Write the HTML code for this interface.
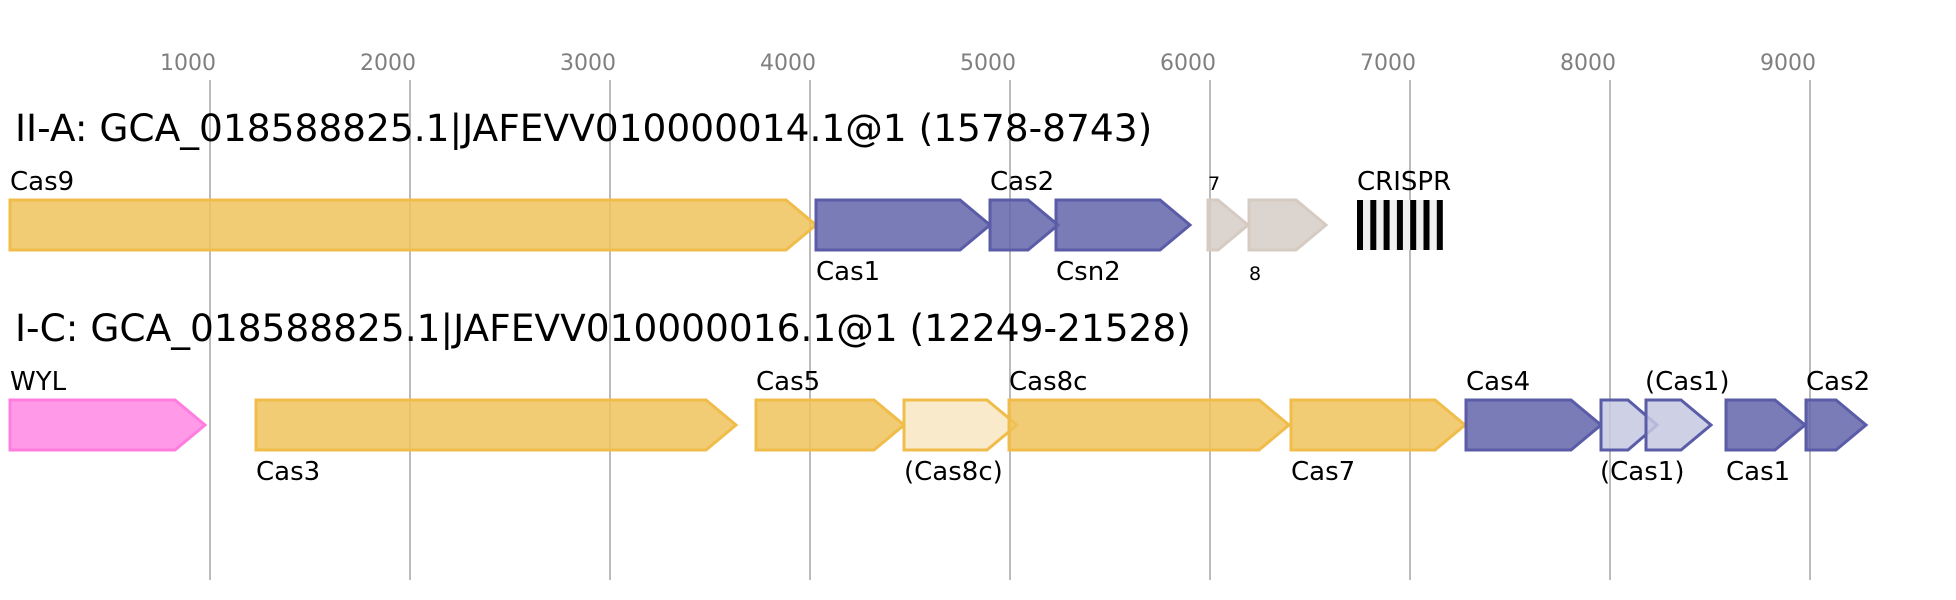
<!DOCTYPE html>
<html>
<head>
<meta charset="utf-8">
<style>
  html, body { margin: 0; padding: 0; background: #ffffff; }
  svg { display: block; }
  text { font-family: "DejaVu Sans", "Liberation Sans", sans-serif; }
  .tick { font-size: 22px; fill: #808080; text-anchor: middle; }
  .title { font-size: 37.5px; fill: #000; }
  .lab { font-size: 26px; fill: #000; }
  .small { font-size: 19px; fill: #000; }
  .grid { stroke: #bbbbbb; stroke-width: 2; }
  .y { fill: #eec35c; fill-opacity: 0.85; stroke: #f0bc4a; stroke-width: 3; }
  .ly { fill: #f8e6c2; fill-opacity: 0.85; stroke: #f0bc4a; stroke-width: 3; }
  .b { fill: #6265a9; fill-opacity: 0.85; stroke: #5a5ca8; stroke-width: 3; }
  .lb { fill: #c6c8e2; fill-opacity: 0.85; stroke: #5a5ca8; stroke-width: 3; }
  .g { fill: #d6ccc6; fill-opacity: 0.85; stroke: #d6cbc2; stroke-width: 3; }
  .p { fill: #ff87e4; fill-opacity: 0.85; stroke: #ff7ddf; stroke-width: 3; }
</style>
</head>
<body>
<svg width="1956" height="600" viewBox="0 0 1956 600" xmlns="http://www.w3.org/2000/svg">
  <!-- grid -->
  <g class="grid">
    <line x1="210" y1="80" x2="210" y2="580"/>
    <line x1="410" y1="80" x2="410" y2="580"/>
    <line x1="610" y1="80" x2="610" y2="580"/>
    <line x1="810" y1="80" x2="810" y2="580"/>
    <line x1="1010" y1="80" x2="1010" y2="580"/>
    <line x1="1210" y1="80" x2="1210" y2="580"/>
    <line x1="1410" y1="80" x2="1410" y2="580"/>
    <line x1="1610" y1="80" x2="1610" y2="580"/>
    <line x1="1810" y1="80" x2="1810" y2="580"/>
  </g>
  <text class="tick" x="188" y="70">1000</text>
  <text class="tick" x="388" y="70">2000</text>
  <text class="tick" x="588" y="70">3000</text>
  <text class="tick" x="788" y="70">4000</text>
  <text class="tick" x="988" y="70">5000</text>
  <text class="tick" x="1188" y="70">6000</text>
  <text class="tick" x="1388" y="70">7000</text>
  <text class="tick" x="1588" y="70">8000</text>
  <text class="tick" x="1788" y="70">9000</text>

  <!-- Row 1 -->
  <text class="title" x="15" y="141">II-A: GCA_018588825.1|JAFEVV010000014.1@1 (1578-8743)</text>

  <path class="y" d="M10,200 L786,200 L816,225 L786,250 L10,250 Z"/>
  <path class="b" d="M816,200 L960,200 L990,225 L960,250 L816,250 Z"/>
  <path class="b" d="M990,200 L1028,200 L1058,225 L1028,250 L990,250 Z"/>
  <path class="b" d="M1056,200 L1160,200 L1190,225 L1160,250 L1056,250 Z"/>
  <path class="g" d="M1208,200 L1218,200 L1248,225 L1218,250 L1208,250 Z"/>
  <path class="g" d="M1249,200 L1296,200 L1326,225 L1296,250 L1249,250 Z"/>
  <!-- CRISPR -->
  <rect x="1357" y="200" width="86" height="50" fill="#efefef"/>
  <g fill="#000">
    <rect x="1357" y="200" width="6" height="50"/>
    <rect x="1370.3" y="200" width="6" height="50"/>
    <rect x="1383.6" y="200" width="6" height="50"/>
    <rect x="1396.9" y="200" width="6" height="50"/>
    <rect x="1410.2" y="200" width="6" height="50"/>
    <rect x="1423.5" y="200" width="6" height="50"/>
    <rect x="1436.8" y="200" width="6" height="50"/>
  </g>

  <text class="lab" x="10" y="190">Cas9</text>
  <text class="lab" x="816" y="280">Cas1</text>
  <text class="lab" x="990" y="190">Cas2</text>
  <text class="lab" x="1056" y="280">Csn2</text>
  <text class="small" x="1208" y="190">7</text>
  <text class="small" x="1249" y="280">8</text>
  <text class="lab" x="1357" y="190">CRISPR</text>

  <!-- Row 2 -->
  <text class="title" x="15" y="341">I-C: GCA_018588825.1|JAFEVV010000016.1@1 (12249-21528)</text>

  <path class="p" d="M10,400 L175,400 L205,425 L175,450 L10,450 Z"/>
  <path class="y" d="M256,400 L706,400 L736,425 L706,450 L256,450 Z"/>
  <path class="y" d="M756,400 L874,400 L904,425 L874,450 L756,450 Z"/>
  <path class="ly" d="M904,400 L987,400 L1017,425 L987,450 L904,450 Z"/>
  <path class="y" d="M1009,400 L1259,400 L1289,425 L1259,450 L1009,450 Z"/>
  <path class="y" d="M1291,400 L1435,400 L1465,425 L1435,450 L1291,450 Z"/>
  <path class="b" d="M1466,400 L1571,400 L1601,425 L1571,450 L1466,450 Z"/>
  <path class="lb" d="M1601,400 L1628,400 L1657,425 L1628,450 L1601,450 Z"/>
  <path class="lb" d="M1646,400 L1681,400 L1711,425 L1681,450 L1646,450 Z"/>
  <path class="b" d="M1726,400 L1775,400 L1805,425 L1775,450 L1726,450 Z"/>
  <path class="b" d="M1806,400 L1836,400 L1866,425 L1836,450 L1806,450 Z"/>

  <text class="lab" x="10" y="390">WYL</text>
  <text class="lab" x="256" y="480">Cas3</text>
  <text class="lab" x="756" y="390">Cas5</text>
  <text class="lab" x="904" y="480">(Cas8c)</text>
  <text class="lab" x="1009" y="390">Cas8c</text>
  <text class="lab" x="1291" y="480">Cas7</text>
  <text class="lab" x="1466" y="390">Cas4</text>
  <text class="lab" x="1600" y="480">(Cas1)</text>
  <text class="lab" x="1645" y="390">(Cas1)</text>
  <text class="lab" x="1726" y="480">Cas1</text>
  <text class="lab" x="1806" y="390">Cas2</text>
</svg>
</body>
</html>
